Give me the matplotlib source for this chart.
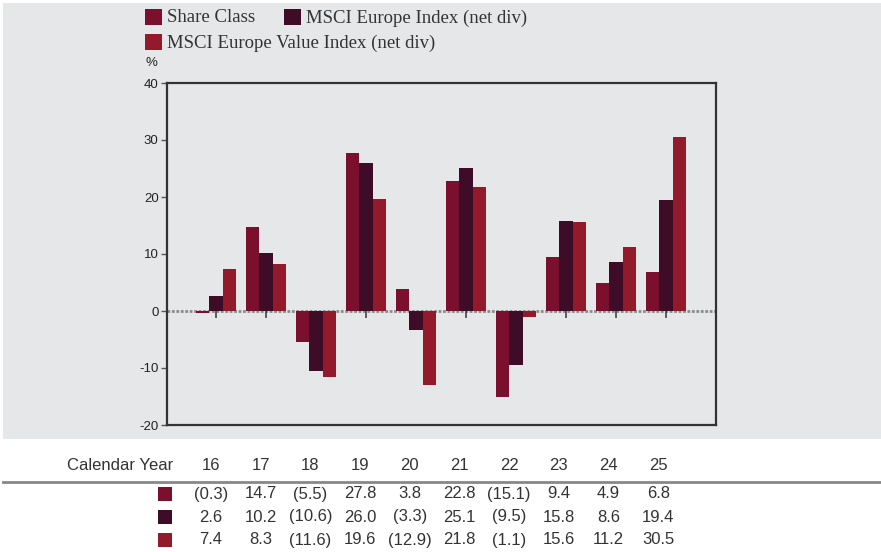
import matplotlib
matplotlib.use('Agg')
import matplotlib.pyplot as plt
from matplotlib.patches import Rectangle
from matplotlib import font_manager
import numpy as np

years = ['16', '17', '18', '19', '20', '21', '22', '23', '24', '25']
share_class = [-0.3, 14.7, -5.5, 27.8, 3.8, 22.8, -15.1, 9.4, 4.9, 6.8]
msci_europe = [2.6, 10.2, -10.6, 26.0, -3.3, 25.1, -9.5, 15.8, 8.6, 19.4]
msci_value = [7.4, 8.3, -11.6, 19.6, -12.9, 21.8, -1.1, 15.6, 11.2, 30.5]

names = ['Share Class', 'MSCI Europe Index (net div)', 'MSCI Europe Value Index (net div)']
colors = ['#7b0f2e', '#3e0c26', '#921a2b']
series = [share_class, msci_europe, msci_value]

plt.rcParams['axes.unicode_minus'] = False

# condensed sans if available, otherwise the narrowest we have
installed = {f.name for f in font_manager.fontManager.ttflist}
cond = 'Liberation Sans Narrow' if 'Liberation Sans Narrow' in installed else 'Liberation Sans'
serif = 'Liberation Serif'

W, H = 881, 552
fig = plt.figure(figsize=(W/100, H/100), dpi=100)
fig.patch.set_facecolor('white')


def fx(x):
    return x / W


def fy(y):
    return 1 - y / H


# gray panel behind the chart
fig.add_artist(Rectangle((fx(3), fy(439)), fx(878), 436/H, transform=fig.transFigure,
                         facecolor='#e6e7e9', edgecolor='none', zorder=0))

ax = fig.add_axes([fx(167), fy(425), fx(549), 342/H])
ax.set_facecolor('none')

x = np.arange(len(years))
bw = 0.267
for i, (vals, c) in enumerate(zip(series, colors)):
    ax.bar(x + (i - 1) * bw, vals, width=bw, color=c, zorder=2)

ax.axhline(0, color='#8a8a8a', lw=2, ls=(0, (1, 0.6)), zorder=1)
ax.plot(x, np.zeros(len(x)), ls='none', marker=3, ms=5, mew=1.2, color='#444444', zorder=1.5)

ax.set_xlim(-0.98, 10)
ax.set_ylim(-20, 40)
ax.set_yticks(np.arange(-20, 41, 10))
ax.set_xticks([])
ax.tick_params(axis='y', direction='out', length=4, width=1, color='#555555',
               labelsize=9.5, labelcolor='#222222', pad=2)
for lab in ax.get_yticklabels():
    lab.set_family(cond)
for s in ax.spines.values():
    s.set_color('#333333')
    s.set_linewidth(1.6)

fig.text(fx(146), fy(63), '%', fontsize=9.5, family=cond, color='#222222', va='center')

# legend drawn by hand so the rows flow like the original
leg = [(145, 17, 0), (284, 17, 1), (145, 42, 2)]
for lx, ly, k in leg:
    fig.add_artist(Rectangle((fx(lx), fy(ly + 8)), fx(17), 16/H, transform=fig.transFigure,
                             facecolor=colors[k], edgecolor='none'))
    fig.text(fx(lx + 22), fy(ly + 1), names[k], fontsize=13.5, family=serif,
             color='#333333', va='center')

# table underneath
cols = [211 + 49.7 * i for i in range(len(years))]
tfs = 12
fig.text(fx(173), fy(466), 'Calendar Year', fontsize=tfs, family=cond, color='#333333',
         ha='right', va='center')
for cx, yr in zip(cols, years):
    fig.text(fx(cx), fy(466), yr, fontsize=tfs, family=cond, color='#333333',
             ha='center', va='center')
fig.add_artist(plt.Line2D([fx(3), 1], [fy(482), fy(482)], transform=fig.transFigure,
                          color='#888888', lw=2))


def fmt(v):
    return '(%.1f)' % abs(v) if v < 0 else '%.1f' % v


row_y = [494, 517, 540]
for ry, vals, c in zip(row_y, series, colors):
    fig.add_artist(Rectangle((fx(158), fy(ry + 7)), fx(14), 14/H, transform=fig.transFigure,
                             facecolor=c, edgecolor='none'))
    for cx, v in zip(cols, vals):
        fig.text(fx(cx), fy(ry), fmt(v), fontsize=tfs, family=cond, color='#333333',
                 ha='center', va='center')

fig.savefig('out.png', dpi=100)
